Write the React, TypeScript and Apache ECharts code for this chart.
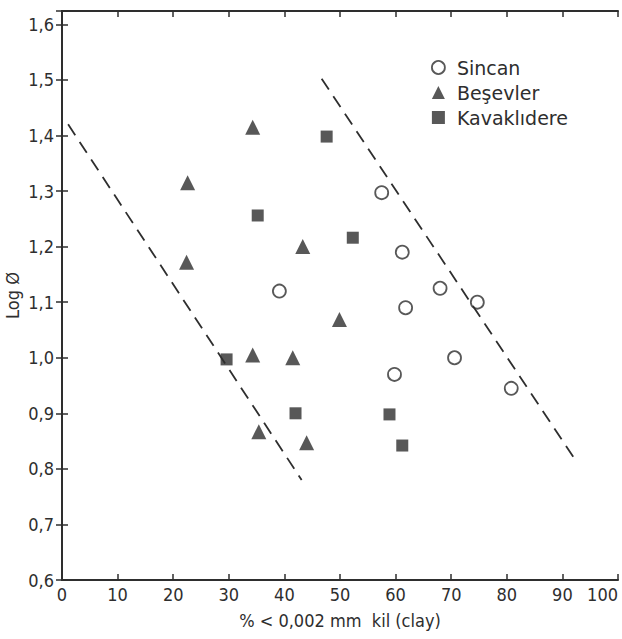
import React, { useEffect, useRef } from "react";
import * as echarts from "echarts";

const sincan: [number, number][] = [
  [39.1, 1.12], [57.5, 1.297], [61.2, 1.19], [61.8, 1.09], [68.0, 1.125],
  [74.7, 1.10], [70.6, 1.0], [59.8, 0.97], [80.8, 0.945],
];
const besevler: [number, number][] = [
  [34.3, 1.415], [22.6, 1.315], [22.4, 1.172], [43.3, 1.2], [49.9, 1.069],
  [34.3, 1.005], [41.5, 1.0], [35.4, 0.867], [44.0, 0.847],
];
const kavaklidere: [number, number][] = [
  [47.6, 1.398], [35.2, 1.256], [52.3, 1.216], [29.6, 0.997],
  [42.0, 0.9], [58.9, 0.898], [61.2, 0.842],
];
const leftBoundary: [number, number][] = [[1.1, 1.42], [43.1, 0.78]];
const rightBoundary: [number, number][] = [[46.7, 1.502], [92.6, 0.812]];

const xTicks = [0, 10, 20, 30, 40, 50, 60, 70, 80, 90, 100];
const yTicks = [0.6, 0.7, 0.8, 0.9, 1.0, 1.1, 1.2, 1.3, 1.4, 1.5, 1.6];
const yMax = 1.624; // frame top sits slightly above the 1,6 tick in the original

const INK = "#2e2e2e";
const FONT = "'DejaVu Sans Condensed', 'Liberation Sans Narrow', 'DejaVu Sans', sans-serif";

export default function App() {
  const ref = useRef<HTMLDivElement>(null);
  useEffect(() => {
    if (!ref.current) return;
    const chart = echarts.init(ref.current, undefined, { renderer: "svg" });
    const axisLine = { show: true, lineStyle: { color: INK, width: 2 } };
    const tick = { show: true, inside: true, length: 6, lineStyle: { color: INK, width: 1.5 } };
    chart.setOption({
      animation: false,
      backgroundColor: "#ffffff",
      grid: { left: 62, right: 4, top: 11, bottom: 59, containLabel: false, outerBoundsMode: "none" },
      legend: {
        orient: "vertical",
        left: 426,
        top: 53,
        itemGap: 6,
        itemWidth: 13,
        itemHeight: 13,
        textStyle: { color: INK, fontSize: 19, fontFamily: "'DejaVu Sans', sans-serif", padding: [0, 0, 0, 7] },
        data: [
          { name: "Sincan", icon: "circle", itemStyle: { color: "#fff", borderColor: INK, borderWidth: 1.8 } },
          { name: "Beşevler", icon: "triangle" },
          { name: "Kavaklıdere", icon: "rect" },
        ],
      },
      xAxis: [
        {
          type: "value", min: 0, max: 100, interval: 10,
          axisLine, axisTick: tick, splitLine: { show: false },
          axisLabel: {
            color: INK, fontSize: 18, fontFamily: FONT, margin: 5,
            alignMaxLabel: "right",
            formatter: (v: number) => (xTicks.includes(v) ? String(v) : ""),
          },
          name: "% < 0,002 mm  kil (clay)",
          nameLocation: "middle",
          nameGap: 31,
          nameMoveOverlap: false,
          nameTextStyle: { color: INK, fontSize: 18, fontFamily: FONT },
        },
        {
          type: "value", position: "top", min: 0, max: 100, interval: 10,
          axisLine, axisTick: tick, axisLabel: { show: false }, splitLine: { show: false },
        },
      ],
      yAxis: [
        {
          type: "value", min: 0.6, max: yMax, interval: 0.1,
          axisLine, axisTick: tick, splitLine: { show: false },
          axisLabel: {
            color: INK, fontSize: 18, fontFamily: FONT, margin: 8,
            formatter: (v: number) => {
              const t = yTicks.find((y) => Math.abs(y - v) < 1e-6);
              return t === undefined ? "" : t.toFixed(1).replace(".", ",");
            },
          },
          name: "Log Ø",
          nameLocation: "middle",
          nameGap: 41,
          nameMoveOverlap: false,
          nameRotate: 90,
          nameTextStyle: { color: INK, fontSize: 18, fontFamily: FONT },
        },
        {
          type: "value", position: "right", min: 0.6, max: yMax, interval: 0.1,
          axisLine, axisTick: tick, axisLabel: { show: false }, splitLine: { show: false },
        },
      ],
      series: [
        {
          name: "Sincan", type: "scatter", data: sincan, symbol: "circle", symbolSize: 13,
          itemStyle: { color: "#fff", borderColor: INK, borderWidth: 1.8 },
        },
        {
          name: "Beşevler", type: "scatter", data: besevler, symbol: "triangle", symbolSize: 15,
          itemStyle: { color: INK },
        },
        {
          name: "Kavaklıdere", type: "scatter", data: kavaklidere, symbol: "rect", symbolSize: 12,
          itemStyle: { color: INK },
        },
        {
          name: "left", type: "line", data: leftBoundary, symbol: "none",
          lineStyle: { color: INK, width: 1.8, type: [13, 8] },
        },
        {
          name: "right", type: "line", data: rightBoundary, symbol: "none",
          lineStyle: { color: INK, width: 1.8, type: [13, 8] },
        },
      ],
    });
    return () => chart.dispose();
  }, []);
  return (
    <div
      ref={ref}
      style={{ position: "fixed", left: 0, top: 0, width: 622, height: 639 }}
    />
  );
}
